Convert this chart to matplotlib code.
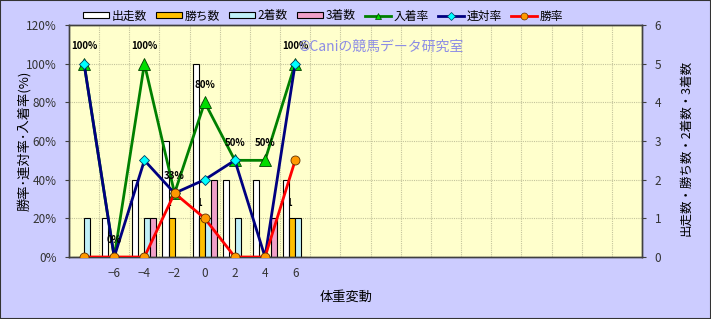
import numpy as np
import matplotlib
matplotlib.use("Agg")
import matplotlib.pyplot as plt
from matplotlib.patches import Rectangle, Patch
from matplotlib.lines import Line2D

plt.rcParams['font.family'] = ['Noto Sans CJK JP', 'DejaVu Sans']

# data
categories = ['-8', '-6', '-4', '-2', '0', '2', '4', '6']
n_slots = 19
tick_labels = ['', '\u22126', '\u22124', '\u22122', '0', '2', '4', '6'] + [''] * 11
starts = [0, 1, 2, 3, 5, 2, 2, 2]
wins = [0, 0, 0, 1, 1, 0, 0, 1]
seconds = [1, 0, 1, 0, 1, 1, 0, 1]
thirds = [0, 0, 1, 0, 2, 0, 1, 0]
place_rate = [100, 0, 100, 33, 80, 50, 50, 100]
rentai_rate = [100, 0, 50, 33, 40, 50, 0, 100]
win_rate = [0, 0, 0, 33, 20, 0, 0, 50]
pct_ticks = [0, 20, 40, 60, 80, 100, 120]
count_ticks = [0, 1, 2, 3, 4, 5, 6]

W, H = 711, 319
fig = plt.figure(figsize=(W / 100, H / 100), dpi=100, facecolor='#CCCCFF')
ax = fig.add_axes([69 / W, 1 - 257 / H, (642 - 69) / W, (257 - 25) / H])
ax.set_facecolor('#FFFFCC')
ax2 = ax.twinx()

x = np.arange(len(categories))
bw = 0.2
bar_series = [
    (starts, '#FFFFFF', '出走数', -0.3),
    (wins, '#FFC000', '勝ち数', -0.1),
    (seconds, '#C0F0F8', '2着数', 0.1),
    (thirds, '#F0A0C8', '3着数', 0.3),
]
for vals, col, lab, off in bar_series:
    ax.bar(x + off, vals, width=bw, color=col, edgecolor='black', linewidth=0.8, zorder=2)

# small value labels of wins, mostly hidden behind bars
for i, v in enumerate(wins):
    if v > 0:
        ax.text(i - 0.2, v + 0.4, str(v), fontsize=7, fontweight='bold',
                ha='center', va='center', zorder=1.5, color='black')

ax.set_xlim(-0.5, n_slots - 0.5)
ax.set_ylim(0, 6)
ax.set_yticks(count_ticks)
ax.set_yticklabels([str(c) for c in count_ticks])
ax.yaxis.tick_right()
ax.set_xticks(np.arange(n_slots))
ax.set_xticklabels(tick_labels)
ax.set_xticks(np.arange(-0.5, n_slots, 1), minor=True)
ax.grid(which='major', axis='y', color='#C4C49C', linestyle=(0, (1, 1)), linewidth=0.8)
ax.grid(which='minor', axis='x', color='#C4C49C', linestyle=(0, (1, 1)), linewidth=0.8)
ax.set_axisbelow(True)
ax.tick_params(axis='x', which='both', length=0, pad=7, labelsize=8.5, labelcolor='#333333')
ax.tick_params(axis='y', length=3, pad=6, labelsize=8.5, labelcolor='#333333', color='#404040')

ax2.plot(x, place_rate, color='#008000', linewidth=2, marker='^', markersize=8,
         markerfacecolor='#00DD00', markeredgecolor='#004000', markeredgewidth=0.6, zorder=3)
ax2.plot(x, rentai_rate, color='#000080', linewidth=2, marker='D', markersize=5.5,
         markerfacecolor='#00FFFF', markeredgecolor='#004060', markeredgewidth=0.6, zorder=4)
ax2.plot(x, win_rate, color='#FF0000', linewidth=2, marker='o', markersize=6.5,
         markerfacecolor='#FF9900', markeredgecolor='#603000', markeredgewidth=0.6, zorder=5)
for i, v in enumerate(place_rate):
    ax2.annotate(f'{v}%', (i, v), xytext=(0, 12.5), textcoords='offset points',
                 ha='center', va='center', fontsize=7, fontweight='bold', zorder=6)

ax2.set_ylim(0, 120)
ax2.set_yticks(pct_ticks)
ax2.set_yticklabels([f'{p}%' for p in pct_ticks])
ax2.yaxis.tick_left()
ax2.tick_params(axis='y', length=3, pad=6, labelsize=8.5, labelcolor='#333333', color='#404040')

for a in (ax, ax2):
    for s in a.spines.values():
        s.set_color('#404040')
        s.set_linewidth(1)

fig.text(24 / W, 1 - 141 / H, '勝率･連対率･入着率(%)', rotation=90, ha='center', va='center',
         fontsize=9.5, color='black')
fig.text(686 / W, 1 - 148 / H, '出走数・勝ち数・2着数・3着数', rotation=90, ha='center', va='center',
         fontsize=9, color='black')
fig.text(346 / W, 1 - 297 / H, '体重変動', ha='center', va='center', fontsize=9.5, color='black')
fig.text(298 / W, 1 - 47 / H, '©Caniの競馬データ研究室', ha='left', va='center',
         fontsize=10, color='#8080E8', alpha=0.9)

handles = [Patch(facecolor=c, edgecolor='black', linewidth=0.8) for _, c, _, _ in bar_series]
handles += [
    Line2D([], [], color='#008000', linewidth=2, marker='^', markersize=5,
           markerfacecolor='#00DD00', markeredgecolor='#004000', markeredgewidth=0.5),
    Line2D([], [], color='#000080', linewidth=2, marker='D', markersize=4,
           markerfacecolor='#00FFFF', markeredgecolor='#004060', markeredgewidth=0.5),
    Line2D([], [], color='#FF0000', linewidth=2, marker='o', markersize=5,
           markerfacecolor='#FF9900', markeredgecolor='#603000', markeredgewidth=0.5),
]
labels = [b[2] for b in bar_series] + ['入着率', '連対率', '勝率']
fig.legend(handles, labels, loc='center', bbox_to_anchor=(323 / W, 1 - 16 / H), ncol=7,
           frameon=False, fontsize=8.5, handlelength=2.2, handleheight=0.4,
           handletextpad=0.2, columnspacing=0.8, borderpad=0)

fig.patches.append(Rectangle((0, 0), 1, 1, transform=fig.transFigure, fill=False,
                             edgecolor='#333333', linewidth=1.5))

fig.savefig('out.png', dpi=100, facecolor=fig.get_facecolor())
